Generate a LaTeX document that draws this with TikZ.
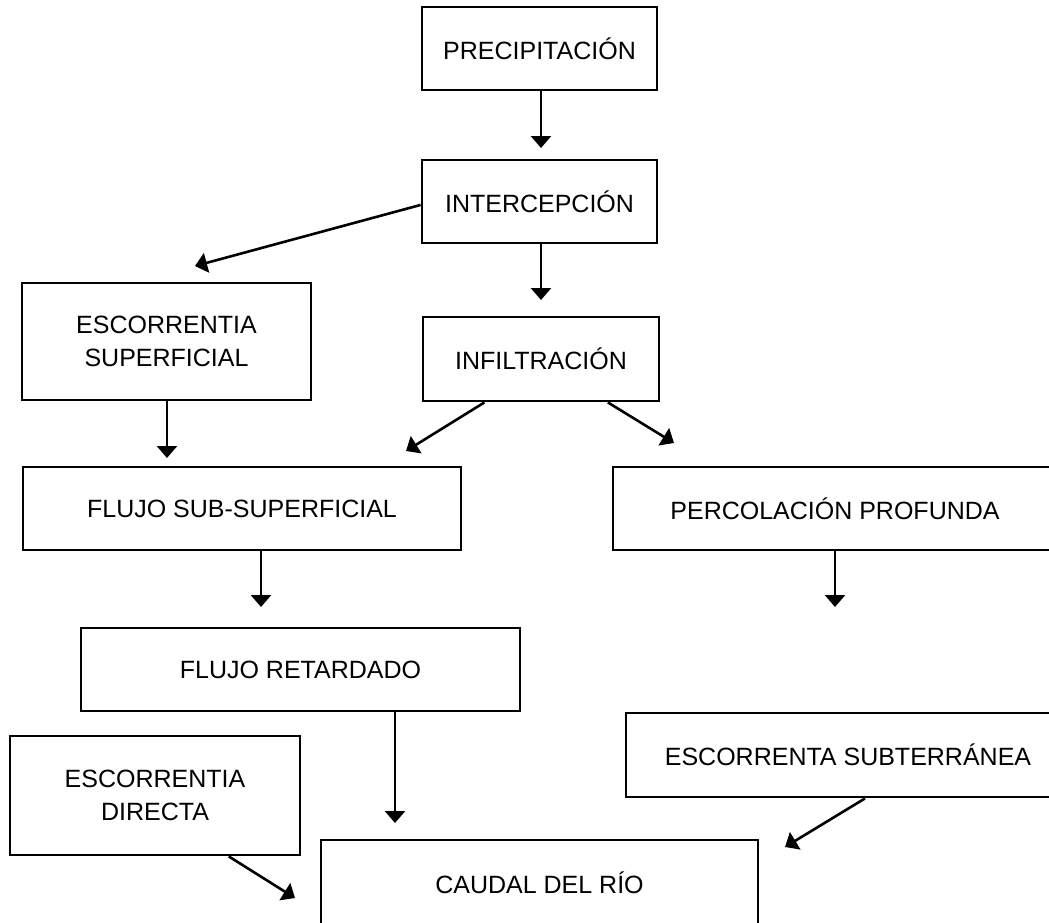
\documentclass[tikz,border=0pt]{standalone}
\usepackage{fontspec}
\setmainfont{Liberation Sans}
\usetikzlibrary{arrows.meta,calc}
\tikzset{
  box/.style={draw=black, line width=2.8pt, rectangle, inner sep=0pt, align=center,
    font=\fontsize{25}{32.5}\selectfont},
  arr/.style={draw=black, line width=2.6pt, -{Triangle[width=20pt,length=12pt]}}
}
\begin{document}
\begin{tikzpicture}[x=1pt,y=-1pt]
\useasboundingbox (0,0) rectangle (1049,922);
\clip (0,0) rectangle (1049,922);
\fill[white] (0,0) rectangle (1049,922);
% boxes
\node[box, minimum width=235pt, minimum height=83pt] (prec) at (539.5,48.5) {PRECIPITACIÓN};
\node[box, minimum width=235pt, minimum height=83pt] (interc) at (539.5,201.5) {INTERCEPCIÓN};
\node[box, minimum width=289pt, minimum height=117pt] (escsup) at (166.5,341.5) {ESCORRENTIA\\SUPERFICIAL};
\node[box, minimum width=236pt, minimum height=84pt] (infil) at (541,359) {INFILTRACIÓN};
\node[box, minimum width=438pt, minimum height=83pt] (flujosub) at (242,508.5) {FLUJO SUB-SUPERFICIAL};
\node[box, minimum width=444pt, minimum height=83pt] (perc) at (835,508.5) {PERCOLACIÓN PROFUNDA};
\node[box, minimum width=439pt, minimum height=83pt] (flujoret) at (300.5,669.5) {FLUJO RETARDADO};
\node[box, minimum width=290pt, minimum height=119pt] (escdir) at (155,795.5) {ESCORRENTIA\\DIRECTA};
\node[box, minimum width=444pt, minimum height=84pt] (escsubt) at (848,755) {ESCORRENTA SUBTERRÁNEA};
\node[box, minimum width=437pt, minimum height=86pt] (caudal) at (539.5,883) {CAUDAL DEL RÍO};
% arrow tips (free ends)
\coordinate (t1) at (541,148);
\coordinate (t2) at (195,266);
\coordinate (t3) at (541,300);
\coordinate (t4) at (406,451);
\coordinate (t5) at (674,443);
\coordinate (t6) at (167,458);
\coordinate (t7) at (261,607);
\coordinate (t8) at (835,607);
\coordinate (t9) at (395,823);
\coordinate (t10) at (785,847);
\coordinate (t11) at (295,898);
% connectors
\draw[arr] (prec.south -| t1) -- (t1);
\draw[arr] ($(interc.north west)!0.54!(interc.south west)$) -- (t2);
\draw[arr] (interc.south -| t3) -- (t3);
\draw[arr] ($(infil.south west)!0.263!(infil.south east)$) -- (t4);
\draw[arr] ($(infil.south west)!0.78!(infil.south east)$) -- (t5);
\draw[arr] (escsup.south -| t6) -- (t6);
\draw[arr] (flujosub.south -| t7) -- (t7);
\draw[arr] (perc.south -| t8) -- (t8);
\draw[arr] (flujoret.south -| t9) -- (t9);
\draw[arr] ($(escsubt.south west)!0.538!(escsubt.south east)$) -- (t10);
\draw[arr] ($(escdir.south west)!0.752!(escdir.south east)$) -- (t11);
\end{tikzpicture}
\end{document}
